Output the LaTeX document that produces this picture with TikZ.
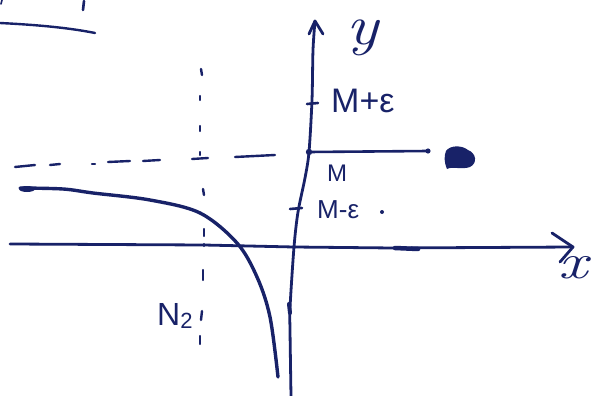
\documentclass[tikz,border=0pt]{standalone}
\usepackage{fontspec}
\newfontfamily\hand{Liberation Sans}
\newfontfamily\lmit{Latin Modern Roman}
\definecolor{inkc}{RGB}{24,34,104}
\begin{document}
\begin{tikzpicture}[x=1pt,y=-1pt,
  ink/.style={draw=inkc, line cap=round, line join=round, line width=2.6pt},
  dsh/.style={draw=inkc, line cap=round, line width=2.4pt},
  lab/.style={text=inkc, inner sep=0pt, anchor=base west}]
\useasboundingbox (0,0) rectangle (606,396);
% fragments at top
\draw[ink, line width=2.4pt] (0,23) .. controls (40,25) and (70,28) .. (95,33);
\draw[ink, line width=2.6pt] (84,1) -- (83,10);
\draw[ink, line width=1.6pt] (2,0) -- (1,4);
% x-axis
\coordinate (xl) at (10,244);
\coordinate (xr) at (573,247);
\draw[ink, line width=2.8pt] (xl) -- (204,245) -- (294,247) -- (393,248) -- (xr);
\draw[ink, line width=4.5pt] (395,248) -- (418,249);
\draw[ink, line width=2.8pt] (552,233) -- (xr) -- (560,262);
% y-axis
\coordinate (yb) at (291,396);
\coordinate (yt) at (315,21);
\draw[ink, line width=2.8pt] plot[smooth, tension=0.5] coordinates {(yb) (290,330) (290,308) (294,247) (298,212) (305,178) (309,152) (312,100) (313,50) (yt)};
\draw[ink, line width=2.8pt] (309,34) -- (yt) -- (323,34);
\draw[ink, line width=4pt] (289,304) -- (290,313);
% M line
\coordinate (M) at (309,152);
\coordinate (Me) at (428,151);
\draw[ink, line width=2.6pt] (M) -- (Me);
\fill[inkc] (M) circle (3.2);
\fill[inkc] (Me) circle (2.6);
% scribble blob
\fill[inkc] (446,151) .. controls (450,145) and (462,145) .. (468,150)
  .. controls (476,153) and (478,163) .. (470,167)
  .. controls (462,170) and (452,166) .. (447,169)
  .. controls (444,162) and (444,156) .. cycle;
% ticks
\draw[ink] (307,104) -- (318,103);
\draw[ink] (290,209) -- (302,208);
% horizontal dashed line
\foreach \a/\b/\c/\d in {15/167/35/165, 50/165/60/164, 92/164/95/164, 108/162/130/161, 143/161/160/160, 192/159/208/158, 235/157/275/155}
  \draw[dsh] (\a,\b) -- (\c,\d);
% vertical dashed line
\foreach \a/\b/\c/\d in {201/69/202/75, 200/96/200/100, 200/126/200/131, 200/152/200/155, 203/189/204/195, 204/229/204/236, 204/244/204/246, 203/270/203/280, 202/311/201/320, 200/336/200/344}
  \draw[dsh] (\a,\b) -- (\c,\d);
% curve
\draw[ink, line width=3.4pt] plot[smooth, tension=0.55] coordinates {(20,188) (63,189) (93,193) (150,200) (200,213) (237,243) (257,277) (270,317) (278,377)};
\fill[inkc] (27,189) ellipse (8 and 3);
% labels
\node[lab, font=\hand\fontsize{34}{34}\selectfont] (mpe) at (331,113) {M+ε};
\node[lab, font=\hand\fontsize{24}{24}\selectfont] (m) at (327,182) {M};
\node[lab, font=\hand\fontsize{26}{26}\selectfont] (mme) at (317,218) {M-ε};
\fill[inkc] (382,212) circle (2);
\node[lab, font=\hand\fontsize{32}{32}\selectfont] (n2) at (157,325) {N\raisebox{-3pt}{\fontsize{22}{22}\selectfont 2}};
\node[text=inkc, inner sep=0pt, font=\lmit\itshape\fontsize{56}{56}\selectfont, xscale=1.2] (ylab) at (362,38) {y};
\node[text=inkc, inner sep=0pt, font=\lmit\itshape\fontsize{50}{50}\selectfont, xscale=1.3] (xlab) at (573,268) {x};
\end{tikzpicture}
\end{document}
